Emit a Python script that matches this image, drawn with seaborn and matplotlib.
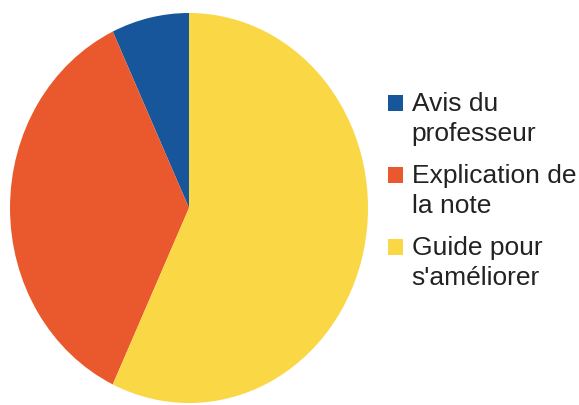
import matplotlib
matplotlib.use("Agg")
import matplotlib.pyplot as plt
import seaborn as sns
from matplotlib.patches import Patch, Rectangle
from matplotlib.legend_handler import HandlerPatch

sns.set_style("white")
plt.rcParams['font.family'] = ['Liberation Sans', 'DejaVu Sans']

# données (lecture du graphique)
categories = ["Avis du\nprofesseur", "Explication de\nla note", "Guide pour\ns'améliorer"]
values = [7, 36, 57]
colors = ["#17569b", "#ea592e", "#fad744"]

fig = plt.figure(figsize=(5.79, 4.05), dpi=100)
ax = fig.add_axes([10 / 579, 2 / 405, 358 / 579, 390 / 405])

ax.pie(values, colors=colors, startangle=90, counterclock=True,
       wedgeprops=dict(linewidth=0))
ax.set_aspect("auto")
ax.set_xlim(-1, 1)
ax.set_ylim(-1, 1)
ax.axis("off")


# carré aligné sur la première ligne du libellé
def carre_haut(legend, orig_handle, xdescent, ydescent, width, height, fontsize):
    return Rectangle((-xdescent, -ydescent + 0.62 * fontsize), width, height)


handles = [Patch(facecolor=c, edgecolor="none") for c in colors]
leg = fig.legend(handles, categories, loc="upper left",
                 bbox_to_anchor=(388 / 579, 1 - 92 / 405), frameon=False,
                 fontsize=19, handlelength=0.55, handleheight=0.55,
                 handletextpad=0.35, labelspacing=0.68, borderpad=0, borderaxespad=0,
                 labelcolor="#222222",
                 handler_map={Patch: HandlerPatch(patch_func=carre_haut)})
for t in leg.get_texts():
    t.set_linespacing(1.32)

fig.savefig("out.png", dpi=100)
